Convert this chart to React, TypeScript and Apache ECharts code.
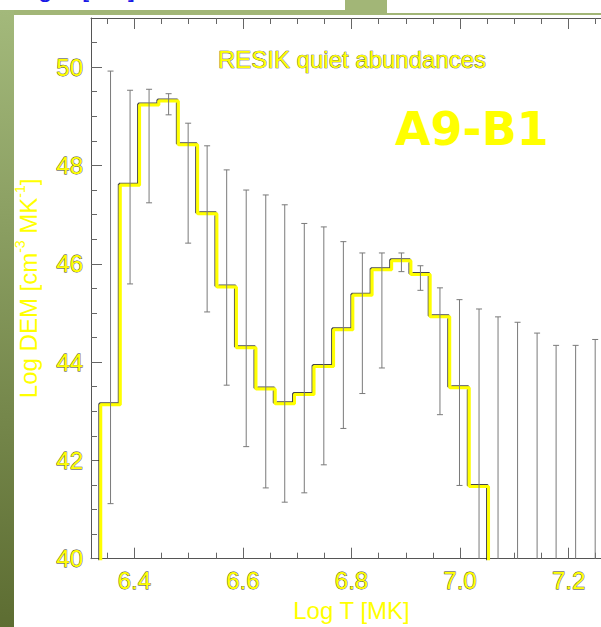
import React, { useEffect, useRef } from 'react';
import * as echarts from 'echarts';

// Histogram bin centres (log T [MK]); the first and last entries pad the
// histogram so its outer steps drop below the plotted floor.
const histLogT = [
  6.320, 6.356, 6.392, 6.427, 6.463, 6.499, 6.534, 6.570, 6.606, 6.642, 6.677,
  6.713, 6.749, 6.785, 6.820, 6.856, 6.892, 6.927, 6.963, 6.999, 7.035, 7.070,
];
const logDEM = [
  39.0, 43.13, 47.60, 49.23, 49.31, 48.42, 47.02, 45.53, 44.29, 43.45, 43.15,
  43.34, 43.91, 44.66, 45.36, 45.88, 46.06, 45.78, 44.92, 43.48, 41.47, 39.0,
];

// Uncertainty range of log DEM in every bin (39 = below the plotted floor).
const errLogT = [
  6.356, 6.392, 6.427, 6.463, 6.499, 6.534, 6.570, 6.606, 6.642, 6.677, 6.713,
  6.749, 6.785, 6.820, 6.856, 6.892, 6.927, 6.963, 6.999, 7.035, 7.070, 7.106,
  7.142, 7.177, 7.213, 7.249,
];
const errHigh = [
  49.92, 49.53, 49.55, 49.46, 48.86, 48.40, 47.91, 47.50, 47.40, 47.20, 46.82,
  46.75, 46.45, 46.22, 46.22, 46.22, 45.96, 45.51, 45.27, 45.08, 44.92, 44.81,
  44.59, 44.34, 44.34, 44.46,
];
const errLow = [
  41.12, 45.59, 47.24, 49.03, 46.42, 45.02, 43.53, 42.28, 41.44, 41.15, 41.34,
  41.91, 42.65, 43.36, 43.88, 45.84, 45.46, 42.93, 41.49, 39.0, 39.0, 39.0,
  39.0, 39.0, 39.0, 39.0,
];

// Axis ticks
const majorX = [6.4, 6.6, 6.8, 7.0, 7.2];
const minorX = [6.35, 6.45, 6.5, 6.55, 6.65, 6.7, 6.75, 6.85, 6.9, 6.95, 7.05, 7.1, 7.15, 7.25];
const majorY = [40, 42, 44, 46, 48, 50];
const minorY = [40.5, 41, 41.5, 42.5, 43, 43.5, 44.5, 45, 45.5, 46.5, 47, 47.5, 48.5, 49, 49.5, 50.5];

const X_MIN = 6.32;
const X_MAX = 7.28;
const Y_MIN = 40;
const Y_MAX = 51;

// The plot frame runs a little past the right edge of the visible page.
const CHART_W = 612;
const CHART_H = 627;

const FONT = "'Liberation Sans', Arial, Helvetica, sans-serif";
const YELLOW = '#ffff00';
const AXIS = '#555555';
const TICK = '#666666';

const tickLabel = {
  color: YELLOW,
  fontFamily: FONT,
  fontSize: 24,
  textBorderColor: '#3c3c3c',
  textBorderWidth: 0.8,
};

function xAxisDef(position: 'bottom' | 'top', major: boolean) {
  return {
    type: 'value',
    position,
    min: X_MIN,
    max: X_MAX,
    axisLine: { show: major, onZero: false, lineStyle: { color: AXIS, width: 1 } },
    axisTick: {
      show: true,
      inside: true,
      length: major ? 11 : 6,
      customValues: major ? majorX : minorX,
      lineStyle: { color: TICK, width: 1 },
    },
    axisLabel: {
      show: major && position === 'bottom',
      customValues: majorX,
      formatter: (v: number) => v.toFixed(1),
      margin: 10,
      ...tickLabel,
    },
    splitLine: { show: false },
  };
}

function yAxisDef(major: boolean) {
  return {
    type: 'value',
    position: 'left',
    min: Y_MIN,
    max: Y_MAX,
    axisLine: { show: major, onZero: false, lineStyle: { color: AXIS, width: 1 } },
    axisTick: {
      show: true,
      inside: true,
      length: major ? 11 : 6,
      customValues: major ? majorY : minorY,
      lineStyle: { color: TICK, width: 1 },
    },
    axisLabel: {
      show: major,
      customValues: majorY,
      margin: 8,
      ...tickLabel,
    },
    splitLine: { show: false },
  };
}

export default function App() {
  const ref = useRef<HTMLDivElement>(null);

  useEffect(() => {
    document.body.style.margin = '0';
    document.body.style.overflow = 'hidden';
    const chart = echarts.init(ref.current!, null, { renderer: 'svg' });

    const xBottom: any = xAxisDef('bottom', true);
    xBottom.name = 'Log T [MK]';
    xBottom.nameLocation = 'middle';
    xBottom.nameGap = 38;
    xBottom.nameTextStyle = { color: YELLOW, fontFamily: FONT, fontSize: 24 };

    const yLeft: any = yAxisDef(true);
    yLeft.name = '{a|Log DEM [cm}{s|-3}{a| MK}{s|-1}{a|]}';
    yLeft.nameLocation = 'middle';
    yLeft.nameRotate = 90;
    yLeft.nameGap = 48;
    yLeft.nameTextStyle = {
      color: YELLOW,
      fontFamily: FONT,
      rich: {
        a: { color: YELLOW, fontFamily: FONT, fontSize: 24, lineHeight: 30 },
        s: { color: YELLOW, fontFamily: FONT, fontSize: 14, lineHeight: 14, verticalAlign: 'top' },
      },
    };

    chart.setOption({
      animation: false,
      backgroundColor: '#ffffff',
      grid: { left: 91, top: 18, right: 0, bottom: 62, containLabel: false },
      xAxis: [xBottom, xAxisDef('bottom', false), xAxisDef('top', true), xAxisDef('top', false)],
      yAxis: [yLeft, yAxisDef(false)],
      graphic: [
        // slide decoration: green bands framing the panel
        { type: 'rect', shape: { x: 0, y: 10, width: 345, height: 5 }, style: { fill: '#a2b677' }, silent: true },
        { type: 'rect', shape: { x: 345, y: 0, width: 42, height: 13 }, style: { fill: '#a2b677' }, silent: true },
        { type: 'rect', shape: { x: 345, y: 13, width: CHART_W - 345, height: 2 }, style: { fill: '#a2b677' }, silent: true },
        {
          type: 'rect',
          shape: { x: 0, y: 10, width: 14, height: CHART_H - 10 },
          style: {
            fill: new echarts.graphic.LinearGradient(0, 0, 0, 1, [
              { offset: 0, color: '#a3b97b' },
              { offset: 1, color: '#5d6d32' },
            ]),
          },
          silent: true,
        },
        {
          type: 'text',
          x: 9,
          y: -12,
          style: { text: 'Log T [MK]', fill: '#1a1ae6', fontSize: 26, fontFamily: FONT, verticalAlign: 'middle' },
          silent: true,
        },
        {
          type: 'text',
          x: 352,
          y: 59.5,
          style: {
            text: 'RESIK quiet abundances',
            fill: YELLOW,
            stroke: '#3c3c3c',
            lineWidth: 0.7,
            fontSize: 24,
            fontFamily: FONT,
            align: 'center',
            verticalAlign: 'middle',
          },
          silent: true,
        },
        {
          type: 'text',
          x: 395,
          y: 129,
          style: {
            text: 'A9-B1',
            fill: YELLOW,
            fontSize: 46,
            fontWeight: 'bold',
            fontFamily: "'Comic Sans MS', 'DejaVu Sans', sans-serif",
            align: 'left',
            verticalAlign: 'middle',
          },
          silent: true,
        },
      ],
      series: [
        {
          type: 'line',
          xAxisIndex: 0,
          yAxisIndex: 0,
          step: 'middle',
          symbol: 'none',
          clip: true,
          z: 2,
          data: histLogT.map((t, i) => [t, logDEM[i]]),
          lineStyle: {
            color: YELLOW,
            width: 3,
            shadowColor: 'rgba(30,30,30,0.8)',
            shadowBlur: 0,
            shadowOffsetX: -1,
            shadowOffsetY: -1,
          },
        },
        {
          type: 'custom',
          xAxisIndex: 0,
          yAxisIndex: 0,
          clip: true,
          z: 3,
          encode: { x: 0, y: [1, 2] },
          data: errLogT.map((t, i) => [t, errLow[i], errHigh[i]]),
          renderItem: (_params: any, api: any) => {
            const t = api.value(0);
            const lo = api.coord([t, api.value(1)]);
            const hi = api.coord([t, api.value(2)]);
            const cap = 3;
            const style = { stroke: '#7a7a7a', lineWidth: 1, fill: 'none' };
            return {
              type: 'group',
              children: [
                { type: 'line', shape: { x1: lo[0], y1: lo[1], x2: hi[0], y2: hi[1] }, style },
                { type: 'line', shape: { x1: hi[0] - cap, y1: hi[1], x2: hi[0] + cap, y2: hi[1] }, style },
                { type: 'line', shape: { x1: lo[0] - cap, y1: lo[1], x2: lo[0] + cap, y2: lo[1] }, style },
              ],
            };
          },
        },
      ],
    });

    return () => chart.dispose();
  }, []);

  return <div ref={ref} style={{ width: CHART_W, height: CHART_H }} />;
}
